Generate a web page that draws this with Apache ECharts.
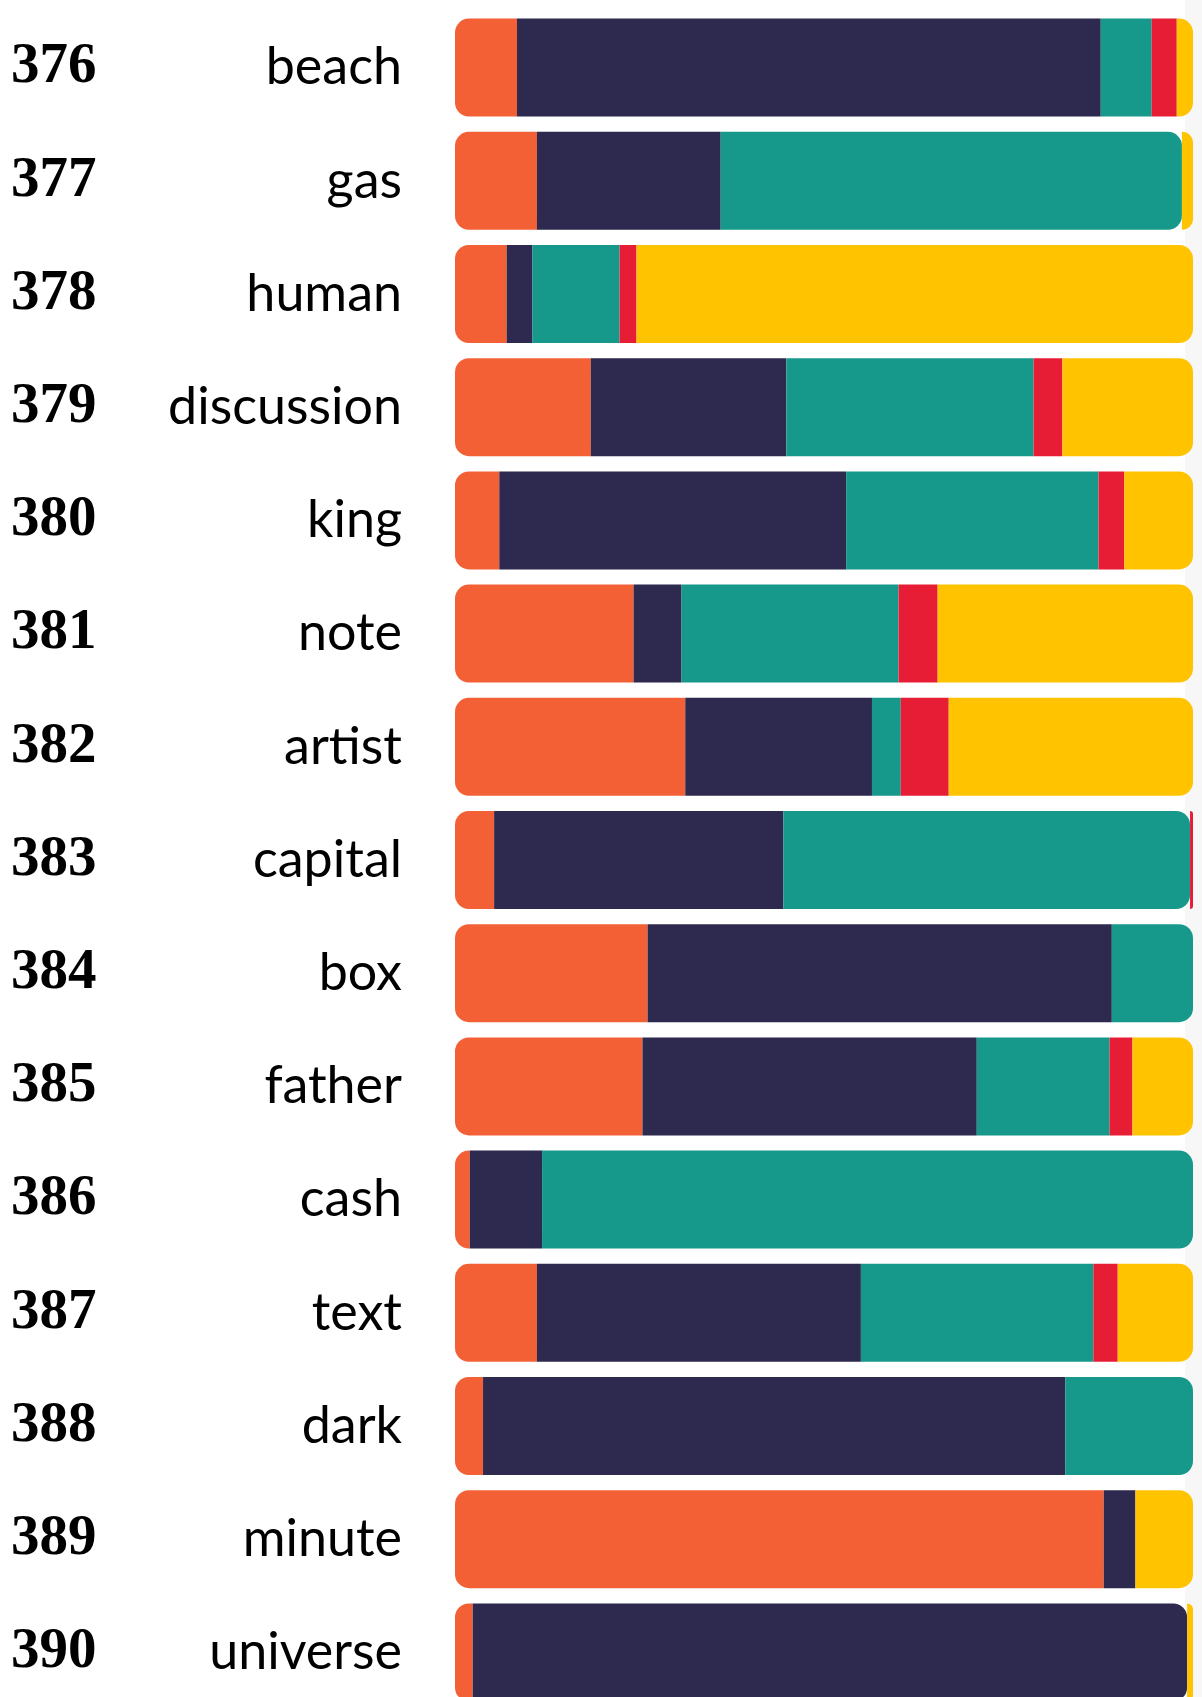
<!DOCTYPE html>
<html>
<head>
<meta charset="utf-8">
<title>stacked rows</title>
<script src="https://cdn.jsdelivr.net/npm/echarts@6/dist/echarts.min.js"></script>
<style>
html, body { margin: 0; padding: 0; background: #fff; }
#main { width: 1202px; height: 1697px; }
</style>
</head>
<body>
<div id="main"></div>
<script>
// row numbers and words
var ids = ['376', '377', '378', '379', '380', '381', '382', '383', '384', '385', '386', '387', '388', '389', '390'];
var words = ['beach', 'gas', 'human', 'discussion', 'king', 'note', 'artist', 'capital', 'box', 'father', 'cash', 'text', 'dark', 'minute', 'universe'];

// share of each colour in a row (percent)
var orangeVals = [8.4, 11.1, 7.0, 18.4, 6.0, 24.2, 31.2, 5.3, 26.1, 25.4, 2.0, 11.1, 3.8, 87.9, 2.4];
var navyVals   = [79.1, 24.9, 3.5, 26.5, 47.0, 6.5, 25.3, 39.2, 62.9, 45.3, 9.8, 43.9, 78.9, 4.3, 96.8];
var tealVals   = [6.9, 62.5, 11.8, 33.5, 34.2, 29.4, 3.9, 55.1, 11.0, 18.0, 88.2, 31.5, 17.3, 0, 0];
var redVals    = [3.4, 0, 2.3, 3.9, 3.5, 5.3, 6.5, 0.4, 0, 3.1, 0, 3.3, 0, 0, 0];
var yellowVals = [2.2, 1.5, 75.4, 17.7, 9.3, 34.6, 33.1, 0, 0, 8.2, 0, 10.2, 0, 7.8, 0.8];

var colors = ['#F46036', '#2E294E', '#16998A', '#E71D36', '#FFC300'];
var allVals = [orangeVals, navyVals, tealVals, redVals, yellowVals];

var R = 14;        // corner radius px
var near = 1.9;    // percent of the bar that one radius covers

// round the outer ends of each row (also segments that end inside the corner)
function buildData(s) {
	var out = [];
	for (var i = 0; i < ids.length; i++) {
		var start = 0;
		for (var k = 0; k < s; k++) start += allVals[k][i];
		var v = allVals[s][i];
		var end = start + v;
		var left = (v > 0 && start < near) ? R : 0;
		var right = (v > 0 && 100 - end < near) ? R : 0;
		out.push({
			value: v,
			itemStyle: { borderRadius: [left, right, right, left] }
		});
	}
	return out;
}

var series = [];
for (var s = 0; s < allVals.length; s++) {
	series.push({
		type: 'bar',
		stack: 'all',
		barWidth: 98,
		silent: true,
		itemStyle: { color: colors[s] },
		data: buildData(s)
	});
}

var chart = echarts.init(document.getElementById('main'));
chart.setOption({
	animation: false,
	backgroundColor: '#ffffff',
	graphic: [{
		type: 'rect',
		z: -10,
		shape: { x: 1185, y: 0, width: 17, height: 1697 },
		style: { fill: '#f7f7f7' }
	}],
	grid: { left: 455, right: 9, top: 11, bottom: -12, outerBoundsMode: 'none', containLabel: false },
	xAxis: {
		type: 'value',
		min: 0,
		max: 100,
		show: false
	},
	yAxis: {
		type: 'category',
		inverse: true,
		data: words,
		axisLine: { show: false },
		axisTick: { show: false },
		splitLine: { show: false },
		axisLabel: {
			margin: 53,
			formatter: function (value, index) {
				return '{n|' + ids[index] + '}{w|' + value + '}';
			},
			rich: {
				n: {
					width: 150,
					align: 'left',
					fontFamily: '"Liberation Serif", "DejaVu Serif", serif',
					fontWeight: 'bold',
					fontSize: 57,
					color: '#000'
				},
				w: {
					width: 241,
					align: 'right',
					fontFamily: 'Lato, "Noto Sans", sans-serif',
					fontSize: 52,
					color: '#000'
				}
			}
		}
	},
	series: series
});
</script>
</body>
</html>
